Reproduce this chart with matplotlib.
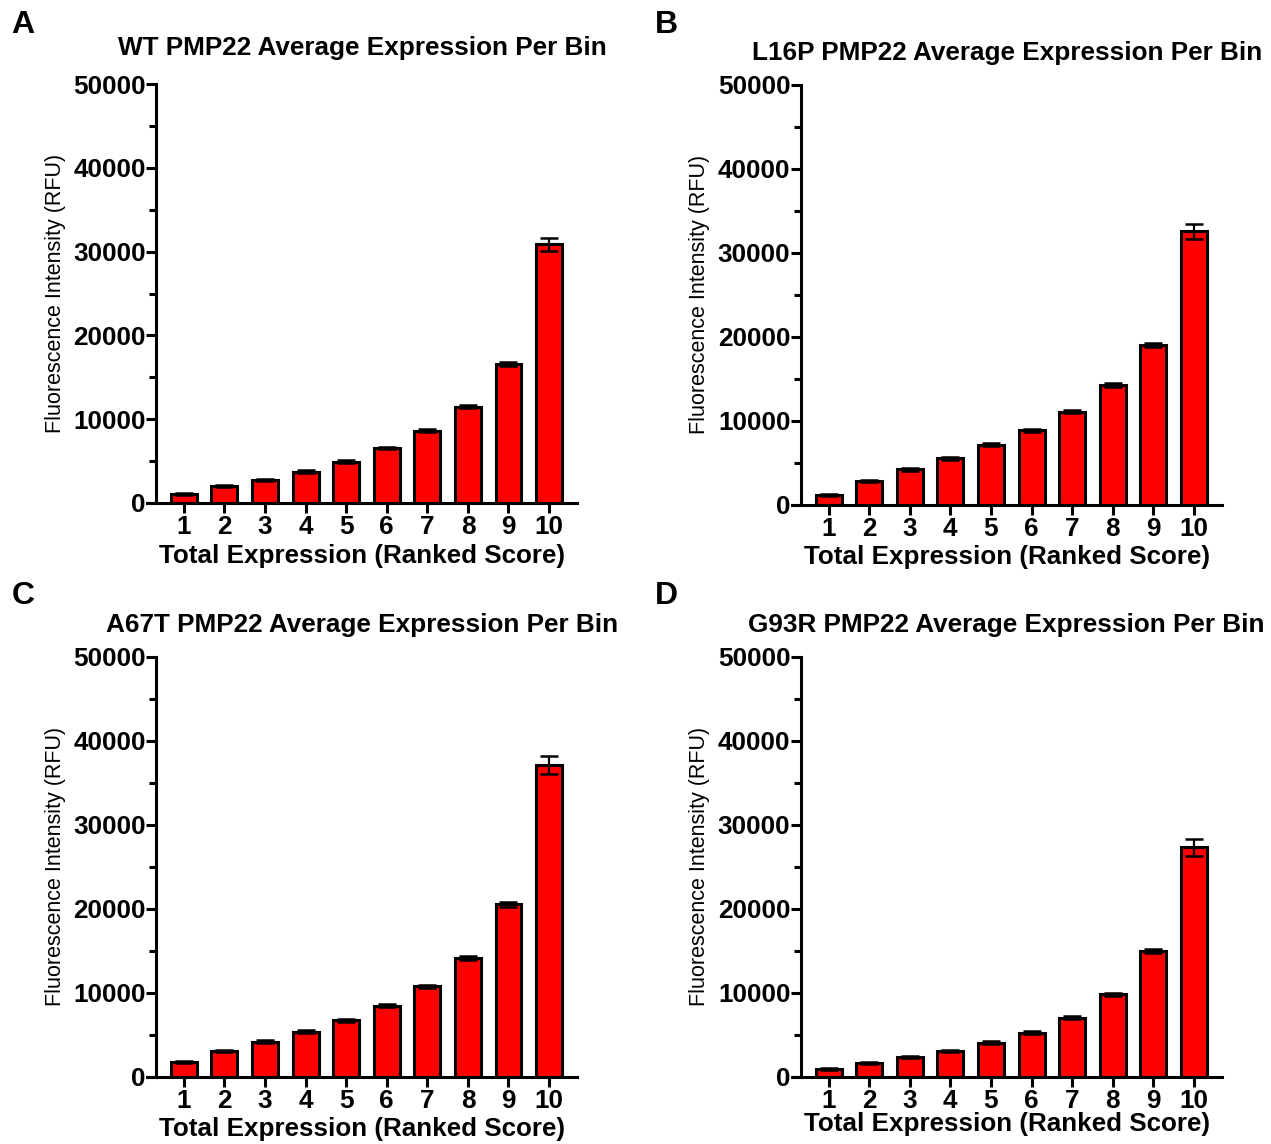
import matplotlib
matplotlib.use("Agg")
import matplotlib.pyplot as plt
from matplotlib.ticker import MultipleLocator

plt.rcParams['font.family'] = ['Liberation Sans', 'DejaVu Sans']

bins = [1, 2, 3, 4, 5, 6, 7, 8, 9, 10]

wt_vals = [1050, 2000, 2800, 3750, 4950, 6550, 8600, 11500, 16600, 30870]
wt_err = [100, 120, 120, 130, 150, 150, 180, 200, 250, 780]

l16p_vals = [1150, 2800, 4200, 5520, 7150, 8860, 11080, 14270, 19000, 32550]
l16p_err = [100, 120, 150, 150, 180, 180, 200, 220, 250, 900]

a67t_vals = [1790, 3100, 4170, 5360, 6710, 8460, 10770, 14150, 20550, 37150]
a67t_err = [100, 120, 150, 150, 180, 180, 200, 220, 300, 1100]

g93r_vals = [950, 1670, 2300, 3100, 4050, 5240, 7030, 9810, 15020, 27340]
g93r_err = [100, 100, 120, 130, 150, 150, 180, 200, 250, 990]

titles = ["WT PMP22 Average Expression Per Bin",
          "L16P PMP22 Average Expression Per Bin",
          "A67T PMP22 Average Expression Per Bin",
          "G93R PMP22 Average Expression Per Bin"]
letters = ["A", "B", "C", "D"]
yticks = [0, 10000, 20000, 30000, 40000, 50000]

W, H = 1271, 1144
fig = plt.figure(figsize=(W / 100, H / 100), dpi=100)

# (left px, bottom px, top px, title y, xlabel y, letter x, letter y)
panels = [
    (147.2, 503.0, 84.0, 48, 556, 23, 25),
    (792.0, 504.7, 85.0, 53, 557, 666, 25),
    (147.2, 1076.7, 657.0, 625, 1129, 23, 596),
    (792.0, 1076.7, 657.0, 625, 1124, 666, 596),
]
data = [(wt_vals, wt_err), (l16p_vals, l16p_err),
        (a67t_vals, a67t_err), (g93r_vals, g93r_err)]

axw = 429.5
lw = 2.2
for i, (left, bot, top, ty, xly, lx, ly) in enumerate(panels):
    vals, err = data[i]
    ax = fig.add_axes([left / W, 1 - bot / H, axw / W, (bot - top) / H])
    ax.bar(bins, vals, width=0.64, color='#ff0000', edgecolor='black',
           linewidth=lw, zorder=2)
    ax.errorbar(bins, vals, yerr=err, fmt='none', ecolor='black',
                elinewidth=1.6, capsize=6.5, capthick=1.8, zorder=3)
    ax.set_xlim(0.1, 10.68)
    ax.set_ylim(0, 50000)
    ax.spines['top'].set_visible(False)
    ax.spines['right'].set_visible(False)
    ax.spines['left'].set_position(('data', 0.318))
    ax.spines['left'].set_linewidth(lw)
    ax.spines['bottom'].set_linewidth(lw)
    ax.set_yticks(yticks)
    ax.set_yticklabels([str(t) for t in yticks], fontsize=18.8, fontweight='bold')
    ax.yaxis.set_minor_locator(MultipleLocator(5000))
    ax.set_xticks(bins)
    ax.set_xticklabels([str(b) for b in bins], fontsize=18.8, fontweight='bold')
    ax.tick_params(axis='both', which='major', direction='out', length=7,
                   width=lw, pad=0.5)
    ax.tick_params(axis='y', which='minor', direction='out', length=5, width=lw)
    ax.tick_params(axis='x', pad=2)
    fig.text((left + axw / 2) / W, 1 - ty / H, titles[i], ha='center', va='center',
             fontsize=18.8, fontweight='bold')
    fig.text((left + axw / 2) / W, 1 - xly / H, "Total Expression (Ranked Score)",
             ha='center', va='center', fontsize=18.7, fontweight='bold')
    fig.text(lx / W, 1 - ly / H, letters[i], ha='center', va='center',
             fontsize=23, fontweight='bold')
    ylx = 55 if i % 2 == 0 else 700
    fig.text(ylx / W, 1 - (bot + top) / 2 / H, "Fluorescence Intensity (RFU)",
             rotation=90, ha='center', va='center', fontsize=15.5)

fig.savefig("out.png", dpi=100)
